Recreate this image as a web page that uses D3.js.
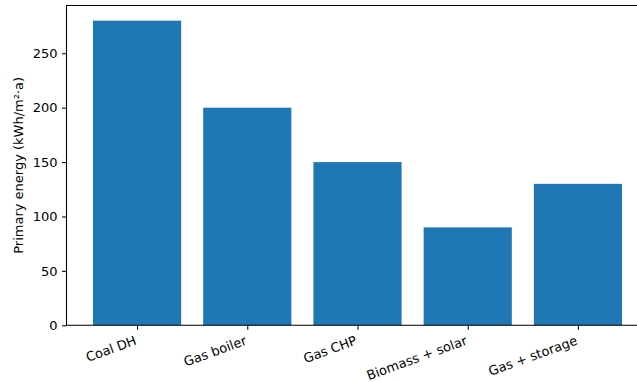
<!DOCTYPE html>
<html><head><meta charset="utf-8">
<script src="https://cdn.jsdelivr.net/npm/d3@7"></script>
<style>body{margin:0;background:#fff;overflow:hidden}svg{display:block}text{font-family:"DejaVu Sans",sans-serif;fill:#000}</style>
</head><body><svg id="c" width="637" height="382"></svg>
<script>
const categories = ["Coal DH","Gas boiler","Gas CHP","Biomass + solar","Gas + storage"];
const values = [280,200,150,90,130];
const yTicks = [0,50,100,150,200,250];
const yLabel = "Primary energy (kWh/m²·a)";

const svg = d3.select("#c");
const L = 66.5, R = 648.5, T = 5.4, B = 325.3;
const n = categories.length;
const x = d3.scaleLinear().domain([-0.4 - 0.05*(n-0.2), n-1+0.4 + 0.05*(n-0.2)]).range([L, R]);
const y = d3.scaleLinear().domain([0, 294]).range([B, T]);

svg.append("g").selectAll("rect").data(values).join("rect")
  .attr("x", (d,i)=>x(i-0.4)).attr("width", (d,i)=>x(i+0.4)-x(i-0.4))
  .attr("y", d=>y(d)).attr("height", d=>y(0)-y(d)).attr("fill","#1f77b4");

const yAxis = svg.append("g").attr("transform",`translate(${L},0)`)
  .call(d3.axisLeft(y).tickValues(yTicks).tickSize(4.5).tickPadding(4.5).tickFormat(d3.format("d")));
yAxis.select(".domain").remove();
yAxis.selectAll("line").attr("stroke","#000").attr("stroke-width",1.05);
yAxis.selectAll("text").attr("font-size","13px").attr("font-family","DejaVu Sans");

const xAxis = svg.append("g").attr("transform",`translate(0,${B})`)
  .call(d3.axisBottom(x).tickValues(d3.range(n)).tickSize(4.5).tickFormat(""));
xAxis.select(".domain").remove();
xAxis.selectAll("line").attr("stroke","#000").attr("stroke-width",1.05);

svg.append("g").selectAll("text").data(categories).join("text")
  .attr("transform",(d,i)=>`translate(${x(i)-3},${B+10}) rotate(-20)`)
  .attr("text-anchor","end").attr("dy","0.72em").attr("font-size","13px").text(d=>d);

// spines
svg.append("path").attr("d",`M${L},${B}V${T}H${R}V${B}Z`).attr("fill","none").attr("stroke","#000").attr("stroke-width",1.05);

svg.append("text").attr("transform",`translate(22.5,${(T+B)/2}) rotate(-90)`)
  .attr("text-anchor","middle").attr("font-size","13px").text(yLabel);
</script></body></html>
